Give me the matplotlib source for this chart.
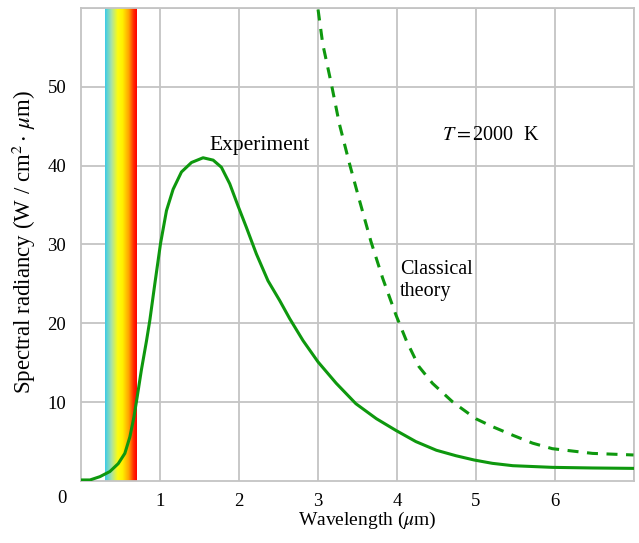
import numpy as np
import matplotlib.pyplot as plt
from matplotlib.colors import LinearSegmentedColormap

# data
exp_x = [0.0, 0.108, 0.234, 0.36, 0.466, 0.55, 0.614, 0.665, 0.707, 0.76, 0.825,
         0.867, 0.93, 1.002, 1.078, 1.162, 1.268, 1.395, 1.542, 1.67, 1.774,
         1.88, 1.985, 2.09, 2.218, 2.365, 2.513, 2.64, 2.81, 3.0, 3.23, 3.48,
         3.74, 3.99, 4.24, 4.50, 4.75, 4.98, 5.21, 5.47, 5.97, 6.48, 7.0]
exp_y = [0.13, 0.13, 0.55, 1.2, 2.2, 3.5, 5.6, 8.1, 10.7, 14.1, 17.8,
         20.4, 25.0, 30.1, 34.3, 37.0, 39.2, 40.4, 41.0, 40.7, 39.8,
         37.7, 34.9, 32.2, 28.8, 25.4, 22.9, 20.6, 17.8, 15.1, 12.4, 9.8,
         7.9, 6.4, 5.0, 3.9, 3.2, 2.66, 2.24, 1.94, 1.73, 1.65, 1.6]

cls_x = [3.0, 3.06, 3.17, 3.27, 3.40, 3.525, 3.67, 3.82, 3.99, 4.12, 4.28,
         4.45, 4.71, 5.0, 5.21, 5.47, 5.72, 5.97, 6.48, 7.0]
cls_y = [59.8, 55.4, 50.3, 45.3, 40.2, 35.6, 30.4, 25.7, 21.0, 17.8, 14.5,
         12.4, 10.0, 7.9, 6.9, 5.8, 4.8, 4.1, 3.5, 3.3]

band = (0.3, 0.7)
spec_stops = [(0.0, "#3ccbe8"), (0.2, "#a8e2a8"), (0.4, "#fcfc10"),
              (0.55, "#fff000"), (0.75, "#ffa000"), (0.9, "#ff2a00"),
              (1.0, "#ff0000")]

plt.rcParams["font.family"] = ["Liberation Serif", "DejaVu Serif"]
plt.rcParams["mathtext.fontset"] = "stix"

fig = plt.figure(figsize=(6.39, 5.43), dpi=100)
ax = fig.add_axes([0.1275, 0.1142, 0.8639, 0.8711])

green = "#0e980e"
grid_c = "#c4c4c4"

# visible spectrum band
cmap = LinearSegmentedColormap.from_list("spec", spec_stops)
ax.imshow(np.linspace(0, 1, 200).reshape(1, -1), cmap=cmap, aspect="auto",
          extent=[band[0], band[1], 0, 60], zorder=1)

ax.plot(exp_x, exp_y, color=green, lw=2.2, zorder=3, solid_joinstyle="round")
ax.plot(cls_x, cls_y, color=green, lw=2.2, ls=(0, (3.6, 2.8)), zorder=3)

ax.set_xlim(0, 7)
ax.set_ylim(0, 60)
ax.set_xticks(range(1, 8))
ax.set_xticklabels(["1", "2", "3", "4", "5", "6", ""])
ax.set_yticks(range(10, 70, 10))
ax.set_yticklabels(["10", "20", "30", "40", "50", ""])
ax.grid(True, color=grid_c, lw=1.3, zorder=0)
ax.set_axisbelow(True)
for s in ax.spines.values():
    s.set_color(grid_c)
    s.set_linewidth(1.3)
ax.tick_params(length=0, labelsize=13.5)
ax.tick_params(axis="x", pad=9)
ax.tick_params(axis="y", pad=11)
ax.text(-0.25, -1.1, "0", fontsize=13.5, ha="center", va="top")

ax.set_xlabel(r"Wavelength ($\mu$m)", fontsize=14)
ax.xaxis.set_label_coords(0.518, -0.062)
ax.set_ylabel(r"Spectral radiancy (W / cm$^2\cdot\,\mu$m)", fontsize=16.5)
ax.yaxis.set_label_coords(-0.078, 0.505)

ax.text(1.627, 42.5, "Experiment", fontsize=15.5, va="center")
ax.text(4.575, 43.8, r"$T = $2000  K", fontsize=14.5, va="center")
ax.text(4.04, 25.4, "Classical\ntheory", fontsize=14.5, va="center", linespacing=1.2)

fig.savefig("out.png", dpi=100)
